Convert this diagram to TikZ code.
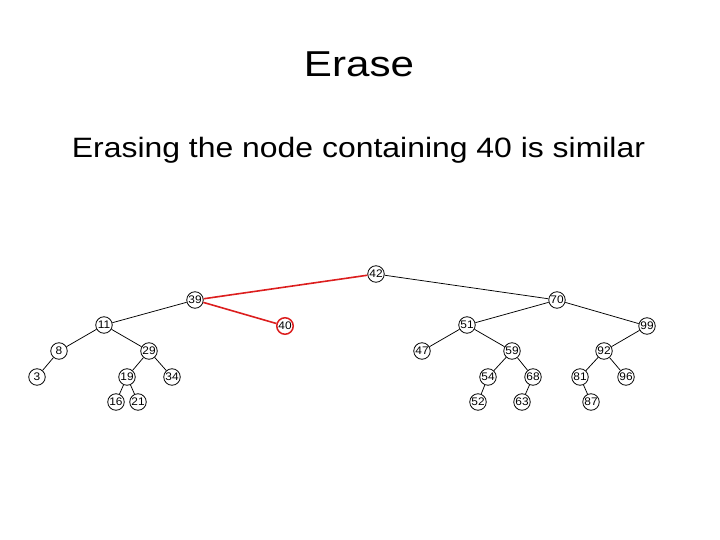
\documentclass[tikz,border=0pt]{standalone}
\usepackage{fontspec}
\setmainfont{Liberation Sans}
\definecolor{ered}{RGB}{220,30,30}
\tikzset{
  tn/.style={circle,draw=black,line width=0.8pt,minimum size=16.5pt,inner sep=0pt,font=\fontsize{11}{12}\selectfont},
  redn/.style={tn,draw=ered,line width=1.5pt},
  edge/.style={draw=black,line width=0.75pt},
  redge/.style={draw=ered,line width=1.6pt},
}
\newcommand{\nm}[1]{\scalebox{1.08}[1]{#1}}
\begin{document}
\begin{tikzpicture}[x=1pt,y=-1pt]
\useasboundingbox (0,0) rectangle (720,540);
\node[anchor=base,font=\fontsize{36}{40}\selectfont] (title) at (359,77) {\scalebox{1.17}[1]{Erase}};
\node[anchor=base,font=\fontsize{28}{32}\selectfont] (sub) at (358.5,158) {\scalebox{1.14}[1]{Erasing the node containing 40 is similar}};
% nodes
\node[tn] (n42) at (376,274) {\nm{42}};
\node[tn] (n39) at (195,300) {\nm{39}};
\node[tn] (n70) at (557,300) {\nm{70}};
\node[tn] (n11) at (104,325) {\nm{11}};
\node[redn] (n40) at (285,326) {\nm{40}};
\node[tn] (n51) at (467,325) {\nm{51}};
\node[tn] (n99) at (647,326) {\nm{99}};
\node[tn] (n8) at (59,351) {\nm{8}};
\node[tn] (n29) at (149,351) {\nm{29}};
\node[tn] (n47) at (422,351) {\nm{47}};
\node[tn] (n59) at (512,351) {\nm{59}};
\node[tn] (n92) at (604,351) {\nm{92}};
\node[tn] (n3) at (37,377) {\nm{3}};
\node[tn] (n19) at (127,377) {\nm{19}};
\node[tn] (n34) at (172,377) {\nm{34}};
\node[tn] (n54) at (488,377) {\nm{54}};
\node[tn] (n68) at (533,377) {\nm{68}};
\node[tn] (n81) at (580,377) {\nm{81}};
\node[tn] (n96) at (626,377) {\nm{96}};
\node[tn] (n16) at (116,402) {\nm{16}};
\node[tn] (n21) at (138,402) {\nm{21}};
\node[tn] (n52) at (478,402) {\nm{52}};
\node[tn] (n63) at (522,402) {\nm{63}};
\node[tn] (n87) at (591,402) {\nm{87}};
% edges
\draw[redge] (n42) -- (n39);
\draw[redge] (n39) -- (n40);
\draw[edge] (n42) -- (n70);
\draw[edge] (n39) -- (n11);
\draw[edge] (n11) -- (n8);
\draw[edge] (n11) -- (n29);
\draw[edge] (n8) -- (n3);
\draw[edge] (n29) -- (n19);
\draw[edge] (n29) -- (n34);
\draw[edge] (n19) -- (n16);
\draw[edge] (n19) -- (n21);
\draw[edge] (n70) -- (n51);
\draw[edge] (n70) -- (n99);
\draw[edge] (n51) -- (n47);
\draw[edge] (n51) -- (n59);
\draw[edge] (n59) -- (n54);
\draw[edge] (n59) -- (n68);
\draw[edge] (n54) -- (n52);
\draw[edge] (n68) -- (n63);
\draw[edge] (n99) -- (n92);
\draw[edge] (n92) -- (n81);
\draw[edge] (n92) -- (n96);
\draw[edge] (n81) -- (n87);
\end{tikzpicture}
\end{document}
